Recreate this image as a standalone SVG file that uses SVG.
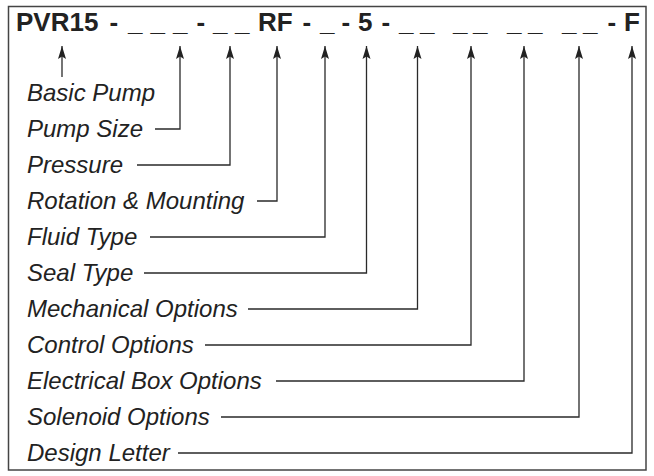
<svg xmlns="http://www.w3.org/2000/svg" width="654" height="476" viewBox="0 0 654 476">
<style>
.lbl{font-family:"Liberation Sans",Arial,sans-serif;font-style:italic;font-size:24px;fill:#222}
.hdr{font-family:"Liberation Sans",Arial,sans-serif;font-weight:bold;font-size:26px;fill:#222}
.con{fill:none;stroke:#2a2a2a;stroke-width:1.3;marker-end:url(#ah)}
</style>
<defs>
<marker id="ah" markerUnits="userSpaceOnUse" markerWidth="16" markerHeight="12" viewBox="-14 -5 16 10" refX="0" refY="0" orient="auto">
<path d="M0,0 L-13,-4 L-10.5,0 L-13,4 Z" fill="#222"/>
</marker>
</defs>
<rect x="8.5" y="6.5" width="637.5" height="463.5" fill="#fff" stroke="#444" stroke-width="1.5"/>
<g id="header">
<text class="hdr" y="31"><tspan x="16">PVR15</tspan><tspan x="109.5">-</tspan><tspan x="128">_</tspan><tspan x="150.5">_</tspan><tspan x="173">_</tspan><tspan x="196.5">-</tspan><tspan x="213">_</tspan><tspan x="235">_</tspan><tspan x="258">RF</tspan><tspan x="302.5">-</tspan><tspan x="320">_</tspan><tspan x="341.5">-</tspan><tspan x="358">5</tspan><tspan x="381.5">-</tspan><tspan x="399">_</tspan><tspan x="420">_</tspan><tspan x="453">_</tspan><tspan x="473">_</tspan><tspan x="507">_</tspan><tspan x="528">_</tspan><tspan x="562">_</tspan><tspan x="583">_</tspan><tspan x="607.5">-</tspan><tspan x="624">F</tspan></text>
</g>
<g id="basic-pump"><text class="lbl" x="27" y="100.5">Basic Pump</text></g>
<g id="pump-size"><text class="lbl" x="27" y="136.5">Pump Size</text></g>
<g id="pressure"><text class="lbl" x="27" y="172.5">Pressure</text></g>
<g id="rotation-mounting"><text class="lbl" x="27" y="208.5">Rotation &amp; Mounting</text></g>
<g id="fluid-type"><text class="lbl" x="27" y="244.5">Fluid Type</text></g>
<g id="seal-type"><text class="lbl" x="27" y="280.5">Seal Type</text></g>
<g id="mechanical-options"><text class="lbl" x="27" y="316.5">Mechanical Options</text></g>
<g id="control-options"><text class="lbl" x="27" y="352.5">Control Options</text></g>
<g id="electrical-box-options"><text class="lbl" x="27" y="388.5">Electrical Box Options</text></g>
<g id="solenoid-options"><text class="lbl" x="27" y="424.5">Solenoid Options</text></g>
<g id="design-letter"><text class="lbl" x="27" y="460.5">Design Letter</text></g>
<g id="connectors">
<path class="con" d="M62,77 V46"/>
<path class="con" d="M155,129 H180 V46"/>
<path class="con" d="M137,165 H230 V46"/>
<path class="con" d="M257,201 H277 V46"/>
<path class="con" d="M150,237 H325 V46"/>
<path class="con" d="M144,273 H366.5 V46"/>
<path class="con" d="M248,309 H417.5 V46"/>
<path class="con" d="M205,345 H471 V46"/>
<path class="con" d="M276,381 H524 V46"/>
<path class="con" d="M221,417 H579 V46"/>
<path class="con" d="M178,453 H632 V46"/>
</g>
</svg>
